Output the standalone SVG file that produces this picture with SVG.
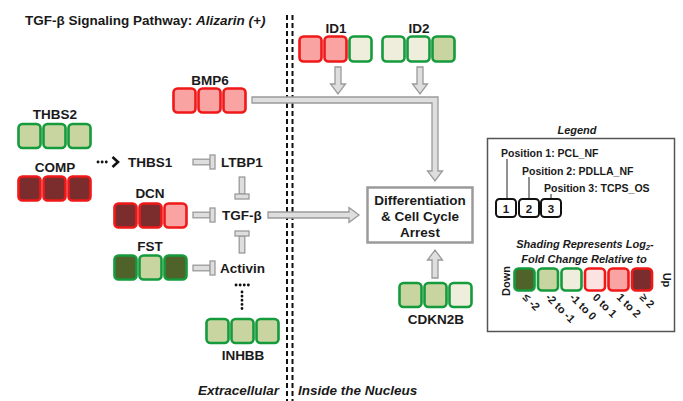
<svg xmlns="http://www.w3.org/2000/svg" width="683" height="401" viewBox="0 0 683 401">
  <style>
    text { font-family: "Liberation Sans", Arial, sans-serif; font-weight: bold; fill: #1a1a1a; }
    .lbl { font-size: 13.5px; }
    .mid { text-anchor: middle; }
    .it { font-style: italic; }
    .cell { stroke-width: 2.6; }
    .dr { fill: #7b2d2d; stroke: #f01818; }
    .pk { fill: #f9a3a3; stroke: #f01818; }
    .lp { fill: #fde2e2; stroke: #f01818; }
    .do { fill: #4f6229; stroke: #159a3c; }
    .lg { fill: #c8d5a1; stroke: #159a3c; }
    .cr { fill: #efeedd; stroke: #159a3c; }
    .pipe { fill: #dedede; stroke: #9a9a9a; stroke-width: 1.3; }
    .divider { stroke: #111; stroke-width: 2; stroke-dasharray: 5 3; fill: none; }
    .dots { stroke: #111; stroke-width: 2.8; stroke-dasharray: 0.1 4; stroke-linecap: round; fill: none; }
  </style>
  <defs>
    <!-- grey inhibition bar (blunt end), pointing +x, origin at the start of the stem -->
    <g id="inhibit">
      <rect class="pipe" x="0" y="-2.8" width="17" height="5.6"/>
      <rect class="pipe" x="17" y="-7" width="5" height="14"/>
    </g>
  </defs>

  <!-- title -->
  <text x="25" y="25" font-size="13.5">TGF-β Signaling Pathway: <tspan class="it">Alizarin (+)</tspan></text>

  <!-- membrane / nucleus divider -->
  <g id="divider">
    <line class="divider" x1="287" y1="15" x2="287" y2="401"/>
    <line class="divider" x1="292.5" y1="15" x2="292.5" y2="401"/>
  </g>

  <!-- connectors -->
  <g id="connectors">
    <!-- BMP6 into the outcome box -->
    <path class="pipe" d="M252,97 L438,97 L438,171 L442.5,171 L435,181 L427.5,171 L432,171 L432,103 L252,103 Z"/>
    <!-- ID1 / ID2 down -->
    <path class="pipe" d="M335,67 L341,67 L341,84 L345.5,84 L338,94 L330.5,84 L335,84 Z"/>
    <path class="pipe" d="M417,67 L423,67 L423,84 L427.5,84 L420,94 L412.5,84 L417,84 Z"/>
    <!-- TGF-beta to outcome -->
    <path class="pipe" d="M268,212 L349,212 L349,207.5 L359,215 L349,222.5 L349,218 L268,218 Z"/>
    <!-- CDKN2B up -->
    <path class="pipe" d="M432,278 L432,260 L427.5,260 L435,250 L442.5,260 L438,260 L438,278 Z"/>
    <!-- inhibition bars -->
    <use href="#inhibit" transform="translate(193,162)"/>
    <use href="#inhibit" transform="translate(193,215)"/>
    <use href="#inhibit" transform="translate(193,268)"/>
    <use href="#inhibit" transform="translate(242,177) rotate(90)"/>
    <use href="#inhibit" transform="translate(242,253) rotate(-90)"/>
    <!-- THBS2/COMP dotted activation of THBS1 -->
    <line class="dots" x1="98" y1="162" x2="109" y2="162"/>
    <path d="M112.5,157 L118,162 L112.5,167" fill="none" stroke="#111" stroke-width="2.6"/>
    <!-- INHBB dotted inhibition of Activin -->
    <line class="dots" x1="242" y1="292" x2="242" y2="312"/>
    <line class="dots" x1="236" y1="285" x2="249" y2="285"/>
  </g>

  <g id="THBS2">
    <text class="lbl mid" x="55" y="119">THBS2</text>
    <rect class="cell lg" x="18.5" y="124" width="22" height="24" rx="4"/>
    <rect class="cell lg" x="43.5" y="124" width="22" height="24" rx="4"/>
    <rect class="cell lg" x="68.5" y="124" width="22" height="24" rx="4"/>
  </g>

  <g id="COMP">
    <text class="lbl mid" x="55" y="172">COMP</text>
    <rect class="cell dr" x="18.5" y="176.5" width="22" height="24" rx="4"/>
    <rect class="cell dr" x="43.5" y="176.5" width="22" height="24" rx="4"/>
    <rect class="cell dr" x="68.5" y="176.5" width="22" height="24" rx="4"/>
  </g>

  <g id="THBS1"><text class="lbl" x="128" y="167">THBS1</text></g>
  <g id="LTBP1"><text class="lbl" x="221" y="167">LTBP1</text></g>
  <g id="TGFB"><text class="lbl" x="222" y="220">TGF-β</text></g>
  <g id="Activin"><text class="lbl" x="220" y="273">Activin</text></g>

  <g id="DCN">
    <text class="lbl mid" x="150" y="198">DCN</text>
    <rect class="cell dr" x="114.5" y="203.5" width="22" height="24" rx="4"/>
    <rect class="cell dr" x="139.5" y="203.5" width="22" height="24" rx="4"/>
    <rect class="cell pk" x="164.5" y="203.5" width="22" height="24" rx="4"/>
  </g>

  <g id="FST">
    <text class="lbl mid" x="150" y="251">FST</text>
    <rect class="cell do" x="114.5" y="255.5" width="22" height="24" rx="4"/>
    <rect class="cell lg" x="139.5" y="255.5" width="22" height="24" rx="4"/>
    <rect class="cell do" x="164.5" y="255.5" width="22" height="24" rx="4"/>
  </g>

  <g id="INHBB">
    <rect class="cell lg" x="206.5" y="319" width="22" height="24" rx="4"/>
    <rect class="cell lg" x="231.5" y="319" width="22" height="24" rx="4"/>
    <rect class="cell lg" x="256.5" y="319" width="22" height="24" rx="4"/>
    <text class="lbl mid" x="243" y="360">INHBB</text>
  </g>

  <g id="BMP6">
    <text class="lbl mid" x="210" y="85">BMP6</text>
    <rect class="cell pk" x="173.5" y="88.5" width="22" height="24" rx="4"/>
    <rect class="cell pk" x="198.5" y="88.5" width="22" height="24" rx="4"/>
    <rect class="cell pk" x="223.5" y="88.5" width="22" height="24" rx="4"/>
  </g>

  <g id="ID1">
    <text class="lbl mid" x="336" y="33">ID1</text>
    <rect class="cell pk" x="299.5" y="36.5" width="22" height="25" rx="4"/>
    <rect class="cell pk" x="324.5" y="36.5" width="22" height="25" rx="4"/>
    <rect class="cell cr" x="349.5" y="36.5" width="22" height="25" rx="4"/>
  </g>

  <g id="ID2">
    <text class="lbl mid" x="419" y="33">ID2</text>
    <rect class="cell cr" x="382.5" y="36.5" width="22" height="25" rx="4"/>
    <rect class="cell cr" x="407.5" y="36.5" width="22" height="25" rx="4"/>
    <rect class="cell lg" x="432.5" y="36.5" width="22" height="25" rx="4"/>
  </g>

  <g id="outcome">
    <rect x="367.5" y="187.5" width="105" height="55" fill="#fff" stroke="#9a9a9a" stroke-width="2.5"/>
    <text class="lbl mid" x="420" y="205">Differentiation</text>
    <text class="lbl mid" x="420" y="221">&amp; Cell Cycle</text>
    <text class="lbl mid" x="420" y="237">Arrest</text>
  </g>

  <g id="CDKN2B">
    <rect class="cell lg" x="399.5" y="283" width="22" height="24" rx="4"/>
    <rect class="cell lg" x="424.5" y="283" width="22" height="24" rx="4"/>
    <rect class="cell cr" x="449.5" y="283" width="22" height="24" rx="4"/>
    <text class="lbl mid" x="436" y="324">CDKN2B</text>
  </g>

  <g id="compartments">
    <text class="lbl it" x="198" y="395">Extracellular</text>
    <text class="lbl it" x="298" y="395">Inside the Nucleus</text>
  </g>

  <g id="legend">
    <text class="it mid" x="577" y="134" font-size="11">Legend</text>
    <rect x="487.5" y="138.5" width="187" height="193" fill="#fff" stroke="#555" stroke-width="1.5"/>
    <text x="501" y="157" font-size="10.5">Position 1: PCL_NF</text>
    <text x="522" y="175" font-size="10.5">Position 2: PDLLA_NF</text>
    <text x="544" y="192" font-size="10.5">Position 3: TCPS_OS</text>
    <g stroke="#222" stroke-width="1" fill="none">
      <line x1="507" y1="159" x2="507" y2="199"/>
      <line x1="529" y1="177" x2="529" y2="199"/>
      <line x1="551" y1="194" x2="551" y2="199"/>
    </g>
    <g fill="#fff" stroke="#111" stroke-width="2">
      <rect x="496" y="199" width="20" height="18" rx="3.5"/>
      <rect x="519" y="199" width="20" height="18" rx="3.5"/>
      <rect x="541" y="199" width="20" height="18" rx="3.5"/>
    </g>
    <text class="mid" x="506" y="213" font-size="11.5">1</text>
    <text class="mid" x="529" y="213" font-size="11.5">2</text>
    <text class="mid" x="551" y="213" font-size="11.5">3</text>

    <text class="it mid" x="585" y="248" font-size="11">Shading Represents Log<tspan font-size="7.5" dy="2">2</tspan><tspan dy="-2">-</tspan></text>
    <text class="it mid" x="584" y="263" font-size="11">Fold Change Relative to</text>

    <rect class="cell do" x="514.5" y="268.5" width="20" height="22" rx="4"/>
    <rect class="cell lg" x="538" y="268.5" width="20" height="22" rx="4"/>
    <rect class="cell cr" x="561.5" y="268.5" width="20" height="22" rx="4"/>
    <rect class="cell lp" x="585" y="268.5" width="20" height="22" rx="4"/>
    <rect class="cell pk" x="608.5" y="268.5" width="20" height="22" rx="4"/>
    <rect class="cell dr" x="632" y="268.5" width="20" height="22" rx="4"/>

    <text class="mid" font-size="11" transform="translate(510,281) rotate(-90)">Down</text>
    <text class="mid" font-size="11" transform="translate(663,280) rotate(90)">Up</text>

    <g font-size="11">
      <text transform="translate(522,298) rotate(45)">≤ -2</text>
      <text transform="translate(545,298) rotate(45)">-2 to -1</text>
      <text transform="translate(569,298) rotate(45)">-1 to 0</text>
      <text transform="translate(592,298) rotate(45)">0 to 1</text>
      <text transform="translate(616,298) rotate(45)">1 to 2</text>
      <text transform="translate(639,298) rotate(45)">≥ 2</text>
    </g>
  </g>
</svg>
